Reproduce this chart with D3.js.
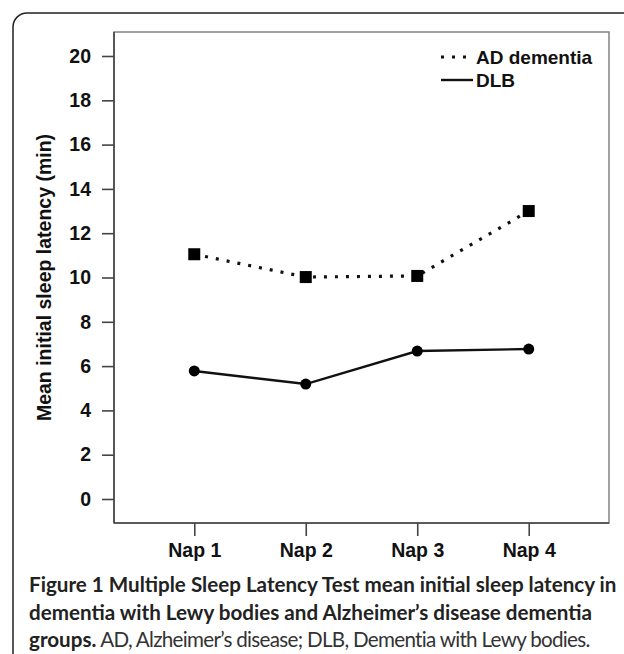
<!DOCTYPE html>
<html>
<head>
<meta charset="utf-8">
<script src="https://cdn.jsdelivr.net/npm/d3@7"></script>
<style>
  html, body { margin: 0; padding: 0; background: #fff; }
  svg { display: block; }
</style>
</head>
<body>
<svg id="chart" width="624" height="654"></svg>
<script>
// ---- data ----
const categories = ["Nap 1", "Nap 2", "Nap 3", "Nap 4"];
const adDementia = [11.05, 10.02, 10.07, 13.0];
const dlb = [5.78, 5.19, 6.68, 6.77];
const yTicks = [0, 2, 4, 6, 8, 10, 12, 14, 16, 18, 20];
const seriesNames = ["AD dementia", "DLB"];
const yTitle = "Mean initial sleep latency (min)";
const captionBold1 = "Figure 1 Multiple Sleep Latency Test mean initial sleep latency in";
const captionBold2 = "dementia with Lewy bodies and Alzheimer\u2019s disease dementia";
const captionBold3 = "groups.";
const captionNormal3 = " AD, Alzheimer\u2019s disease; DLB, Dementia with Lewy bodies.";

(function () {
const svg = d3.select("#chart");
const axisFont = "'Liberation Sans', Arial, sans-serif";

// outer panel border with rounded top-left corner
const bx = 13, by = 13, r = 14;
svg.append("path")
  .attr("d", `M${bx},654 L${bx},${by + r} A${r},${r} 0 0 1 ${bx + r},${by} L624,${by}`)
  .attr("fill", "none").attr("stroke", "#222").attr("stroke-width", 1.5);

// plot area
const pLeft = 114, pRight = 609, pTop = 32, pBottom = 523;
const x = d3.scalePoint().domain(categories).range([pLeft, pRight]).padding(0.72);
const y = d3.scaleLinear().domain([0, 20]).range([499, 56]);

// frame
svg.append("rect")
  .attr("x", pLeft).attr("y", pTop).attr("width", pRight - pLeft).attr("height", pBottom - pTop)
  .attr("fill", "none").attr("stroke", "#8a8a8a").attr("stroke-width", 1.6);

// y axis
const yAxis = d3.axisLeft(y).tickValues(yTicks).tickSize(12).tickPadding(11).tickFormat(d3.format("d"));
const gy = svg.append("g").attr("transform", `translate(${pLeft},0)`).call(yAxis);
gy.select(".domain").attr("d", `M0,${pTop}V${pBottom}`).attr("stroke", "#444").attr("stroke-width", 1.6);
gy.selectAll(".tick line").attr("stroke", "#444").attr("stroke-width", 1.6);
gy.selectAll(".tick text").attr("font-family", axisFont).attr("font-weight", "bold")
  .attr("font-size", 19.5).attr("fill", "#111");

// x axis
const xAxis = d3.axisBottom(x).tickSize(13).tickPadding(7);
const gx = svg.append("g").attr("transform", `translate(0,${pBottom})`).call(xAxis);
gx.select(".domain").attr("d", `M${pLeft},0H${pRight}`).attr("stroke", "#444").attr("stroke-width", 1.6);
gx.selectAll(".tick line").attr("stroke", "#444").attr("stroke-width", 1.6);
gx.selectAll(".tick text").attr("font-family", axisFont).attr("font-weight", "bold")
  .attr("font-size", 19.5).attr("fill", "#111");

// y title
svg.append("text")
  .attr("transform", `translate(51,${y(10)}) rotate(-90)`)
  .attr("text-anchor", "middle")
  .attr("font-family", axisFont).attr("font-weight", "bold").attr("font-size", 19.5)
  .attr("fill", "#111")
  .text(yTitle);

// lines
const line = d3.line().x((d, i) => x(categories[i])).y(d => y(d));
svg.append("path").datum(adDementia).attr("d", line)
  .attr("fill", "none").attr("stroke", "#111").attr("stroke-width", 3.2)
  .attr("stroke-dasharray", "3,8");
svg.append("path").datum(dlb).attr("d", line)
  .attr("fill", "none").attr("stroke", "#111").attr("stroke-width", 2.4);

// markers
const sq = 12;
svg.selectAll("rect.ad").data(adDementia).enter().append("rect")
  .attr("class", "ad")
  .attr("x", (d, i) => x(categories[i]) - sq / 2).attr("y", d => y(d) - sq / 2)
  .attr("width", sq).attr("height", sq).attr("fill", "#000");
svg.selectAll("circle.dlb").data(dlb).enter().append("circle")
  .attr("class", "dlb")
  .attr("cx", (d, i) => x(categories[i])).attr("cy", d => y(d)).attr("r", 5.5)
  .attr("fill", "#000");

// legend
const lg = svg.append("g");
lg.append("line").attr("x1", 441).attr("x2", 470).attr("y1", 57).attr("y2", 57)
  .attr("stroke", "#111").attr("stroke-width", 3.2).attr("stroke-dasharray", "3,8");
lg.append("line").attr("x1", 441).attr("x2", 473).attr("y1", 80).attr("y2", 80)
  .attr("stroke", "#111").attr("stroke-width", 2.4);
lg.selectAll("text").data(seriesNames).enter().append("text")
  .attr("x", 476).attr("y", (d, i) => 57 + i * 23)
  .attr("dy", "0.35em")
  .attr("font-family", axisFont).attr("font-weight", "bold").attr("font-size", 19)
  .attr("fill", "#111")
  .text(d => d);

// caption
const capFont = "Lato, 'Open Sans', sans-serif";
const cap = svg.append("g");
const l1 = cap.append("text").attr("x", 29).attr("y", 592)
  .attr("font-family", capFont).attr("font-weight", "bold").attr("font-size", 18)
  .attr("fill", "#222").text(captionBold1);
const w1 = l1.node().getComputedTextLength();
const fs = 18 * 588 / w1;
l1.attr("font-size", fs);
cap.append("text").attr("x", 29).attr("y", 620)
  .attr("font-family", capFont).attr("font-weight", "bold").attr("font-size", fs)
  .attr("fill", "#222").text(captionBold2);
const l3 = cap.append("text").attr("x", 29).attr("y", 647)
  .attr("font-family", capFont).attr("font-size", fs).attr("fill", "#222");
l3.append("tspan").attr("font-weight", "bold").text(captionBold3);
const t3 = l3.append("tspan").attr("font-weight", "normal").attr("fill", "#333").text(captionNormal3);
// fit the third line so it ends where the reference's does (~x=590)
const w3 = l3.node().getComputedTextLength();
const target3 = 561;
if (w3 > target3) {
  const ls = (target3 - w3) / captionNormal3.length;
  t3.attr("letter-spacing", ls.toFixed(3));
}
})();
</script>
</body>
</html>
